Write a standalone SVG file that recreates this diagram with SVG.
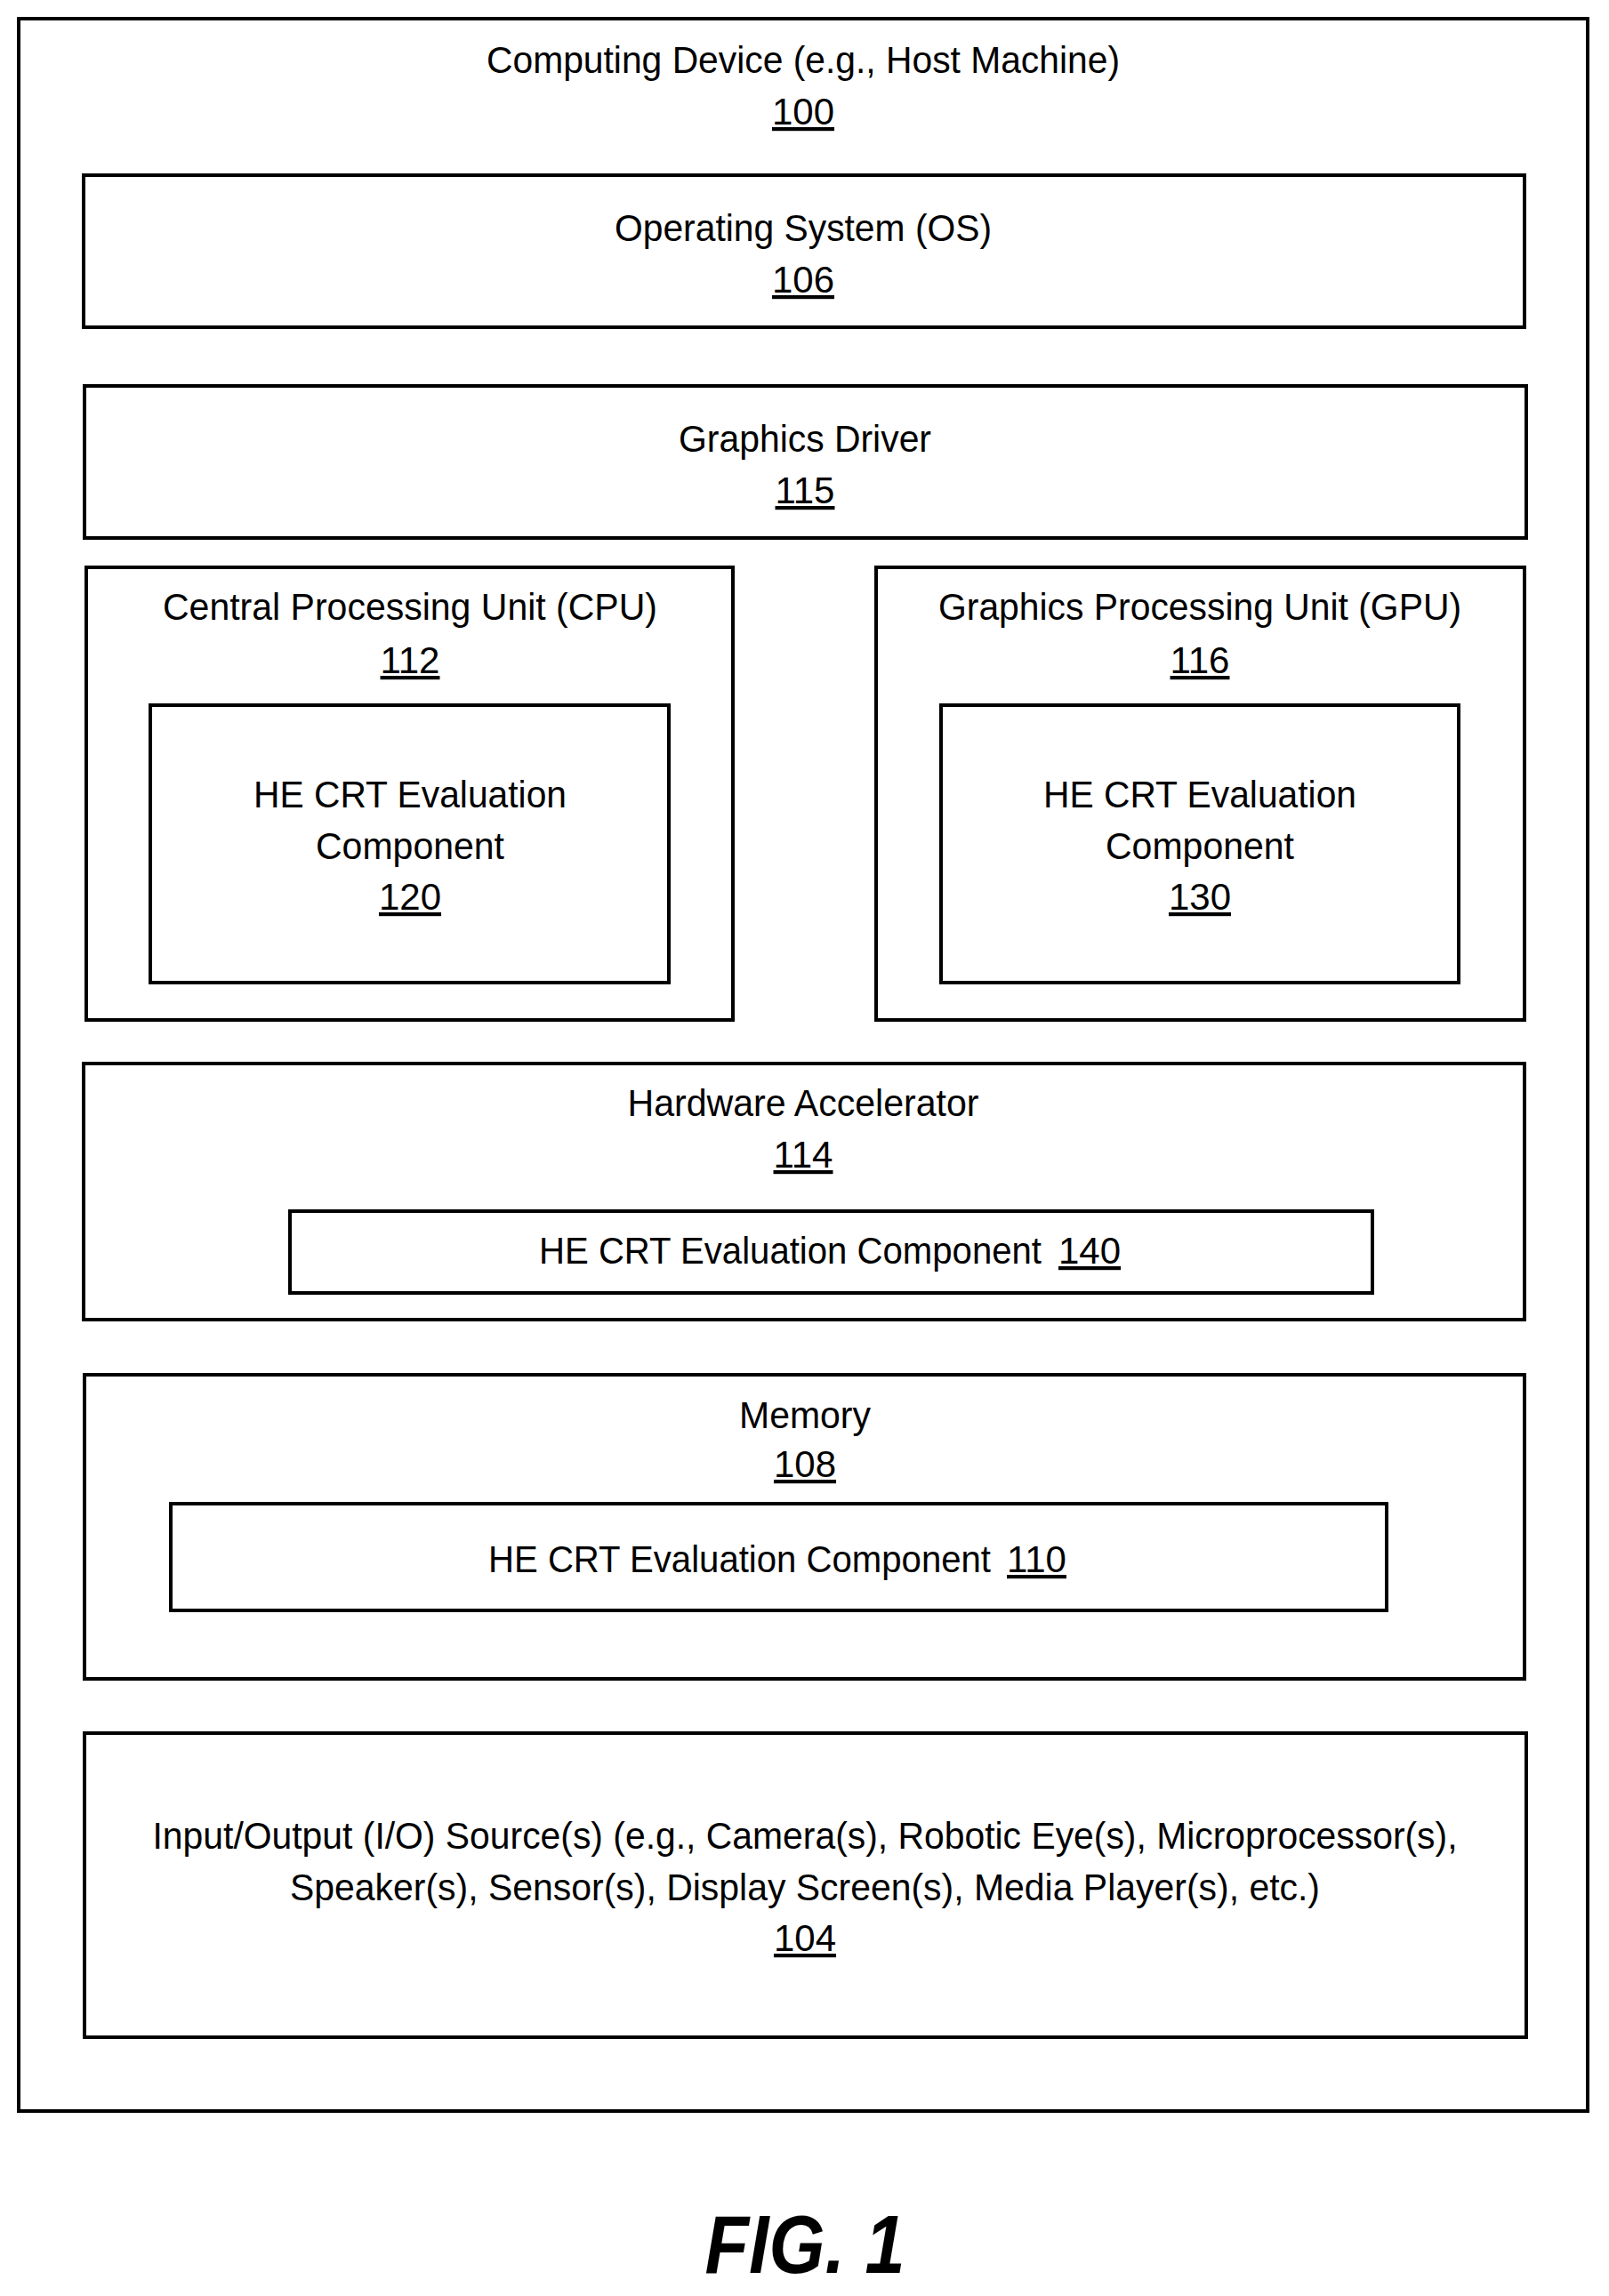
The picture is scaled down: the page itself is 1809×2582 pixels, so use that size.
<svg xmlns="http://www.w3.org/2000/svg" width="1809" height="2582" viewBox="0 0 1809 2582">
<style>
rect{fill:none;stroke:#000;stroke-width:4}
text{font-family:"Liberation Sans",Arial,sans-serif;font-size:42px;text-anchor:middle;fill:#000}
.u{text-decoration:underline}
.s{text-anchor:start}
.fig{font-size:92px;font-weight:bold;font-style:italic}
</style>
<rect width="1809" height="2582" style="fill:#fff;stroke:none"/>
<g id="computing-device"><rect x="21" y="21" width="1764" height="2353"/>
<text x="903" y="82" textLength="712" lengthAdjust="spacingAndGlyphs">Computing Device (e.g., Host Machine)</text><text x="903" y="140" class="u">100</text></g>
<g id="os"><rect x="94" y="197" width="1620" height="171"/>
<text x="903" y="271" textLength="424" lengthAdjust="spacingAndGlyphs">Operating System (OS)</text><text x="903" y="329" class="u">106</text></g>
<g id="graphics-driver"><rect x="95" y="434" width="1621" height="171"/>
<text x="905" y="508" textLength="284" lengthAdjust="spacingAndGlyphs">Graphics Driver</text><text x="905" y="566" class="u">115</text></g>
<g id="cpu"><rect x="97" y="638" width="727" height="509"/>
<text x="461" y="697" textLength="556" lengthAdjust="spacingAndGlyphs">Central Processing Unit (CPU)</text><text x="461" y="757" class="u">112</text></g>
<g id="he120"><rect x="169" y="793" width="583" height="312"/>
<text x="461" y="908" textLength="352" lengthAdjust="spacingAndGlyphs">HE CRT Evaluation</text><text x="461" y="966" textLength="212" lengthAdjust="spacingAndGlyphs">Component</text><text x="461" y="1023" class="u">120</text></g>
<g id="gpu"><rect x="985" y="638" width="729" height="509"/>
<text x="1349" y="697" textLength="588" lengthAdjust="spacingAndGlyphs">Graphics Processing Unit (GPU)</text><text x="1349" y="757" class="u">116</text></g>
<g id="he130"><rect x="1058" y="793" width="582" height="312"/>
<text x="1349" y="908" textLength="352" lengthAdjust="spacingAndGlyphs">HE CRT Evaluation</text><text x="1349" y="966" textLength="212" lengthAdjust="spacingAndGlyphs">Component</text><text x="1349" y="1023" class="u">130</text></g>
<g id="hw-accel"><rect x="94" y="1196" width="1620" height="288"/>
<text x="903" y="1255" textLength="395" lengthAdjust="spacingAndGlyphs">Hardware Accelerator</text><text x="903" y="1313" class="u">114</text></g>
<g id="he140"><rect x="326" y="1362" width="1217" height="92"/>
<text x="606" y="1421" class="s" textLength="565" lengthAdjust="spacingAndGlyphs">HE CRT Evaluation Component</text><text x="1190" y="1421" class="s u">140</text></g>
<g id="memory"><rect x="95" y="1546" width="1619" height="342"/>
<text x="905" y="1606" textLength="148" lengthAdjust="spacingAndGlyphs">Memory</text><text x="905" y="1661" class="u">108</text></g>
<g id="he110"><rect x="192" y="1691" width="1367" height="120"/>
<text x="549" y="1768" class="s" textLength="565" lengthAdjust="spacingAndGlyphs">HE CRT Evaluation Component</text><text x="1132" y="1768" class="s u">110</text></g>
<g id="io"><rect x="95" y="1949" width="1621" height="342"/>
<text x="905" y="2079" textLength="1467" lengthAdjust="spacingAndGlyphs">Input/Output (I/O) Source(s) (e.g., Camera(s), Robotic Eye(s), Microprocessor(s),</text>
<text x="905" y="2137" textLength="1158" lengthAdjust="spacingAndGlyphs">Speaker(s), Sensor(s), Display Screen(s), Media Player(s), etc.)</text>
<text x="905" y="2194" class="u">104</text></g>
<g id="connectors"/>
<text x="905" y="2556" class="fig" textLength="225" lengthAdjust="spacingAndGlyphs">FIG. 1</text>
</svg>
